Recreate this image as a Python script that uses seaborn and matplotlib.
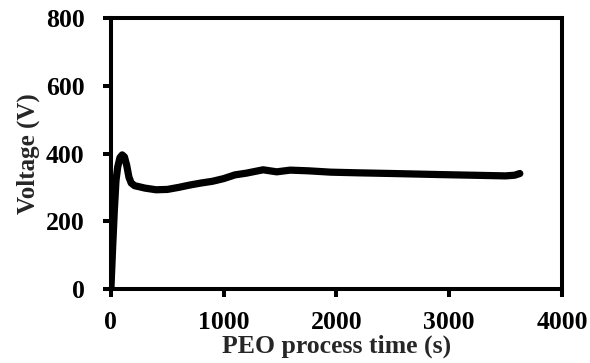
import matplotlib
matplotlib.use("Agg")
import matplotlib.pyplot as plt
import seaborn as sns
import pandas as pd

time_s = [0, 15, 30, 45, 60, 80, 100, 120, 140, 160, 180, 210, 250, 300, 400, 500, 600, 700, 800, 900,
          1000, 1100, 1200, 1350, 1470, 1590, 1750, 1950, 2200, 2500, 2900, 3200, 3500, 3580, 3626]
voltage_v = [0, 120, 230, 320, 360, 388, 396, 390, 365, 330, 313, 305, 302, 298, 293, 294, 300, 307, 313, 318,
             326, 337, 342, 352, 346, 351, 349, 345, 343, 341, 338, 336, 334, 336, 341]

df = pd.DataFrame({"t": time_s, "v": voltage_v})

sns.set_theme(style="ticks")
plt.rcParams['font.family'] = ['Liberation Serif', 'DejaVu Serif']
plt.rcParams['font.weight'] = 'bold'

fig = plt.figure(figsize=(5.9, 3.63), dpi=100)
ax = fig.add_axes([0.188, 0.204, 0.7645, 0.746])
sns.lineplot(data=df, x="t", y="v", ax=ax, color="black", linewidth=5.2,
             solid_capstyle="round", solid_joinstyle="round")
ax.set_xlim(0, 4000)
ax.set_ylim(0, 800)
ax.set_xticks([0, 1000, 2000, 3000, 4000])
ax.set_yticks([0, 200, 400, 600, 800])
for s in ax.spines.values():
    s.set_linewidth(2.9)
    s.set_color("black")
ax.tick_params(axis="both", direction="out", length=6, width=2.9, labelsize=18.5, colors="black")
ax.tick_params(axis="x", pad=10)
ax.tick_params(axis="y", pad=13)
for lab in ax.get_xticklabels() + ax.get_yticklabels():
    lab.set_fontweight("bold")
ax.set_xlabel("PEO process time (s)", fontsize=18.5, fontweight="bold", labelpad=0)
ax.set_ylabel("Voltage (V)", fontsize=18, fontweight="bold", labelpad=4)
fig.savefig("out.png", dpi=100)
